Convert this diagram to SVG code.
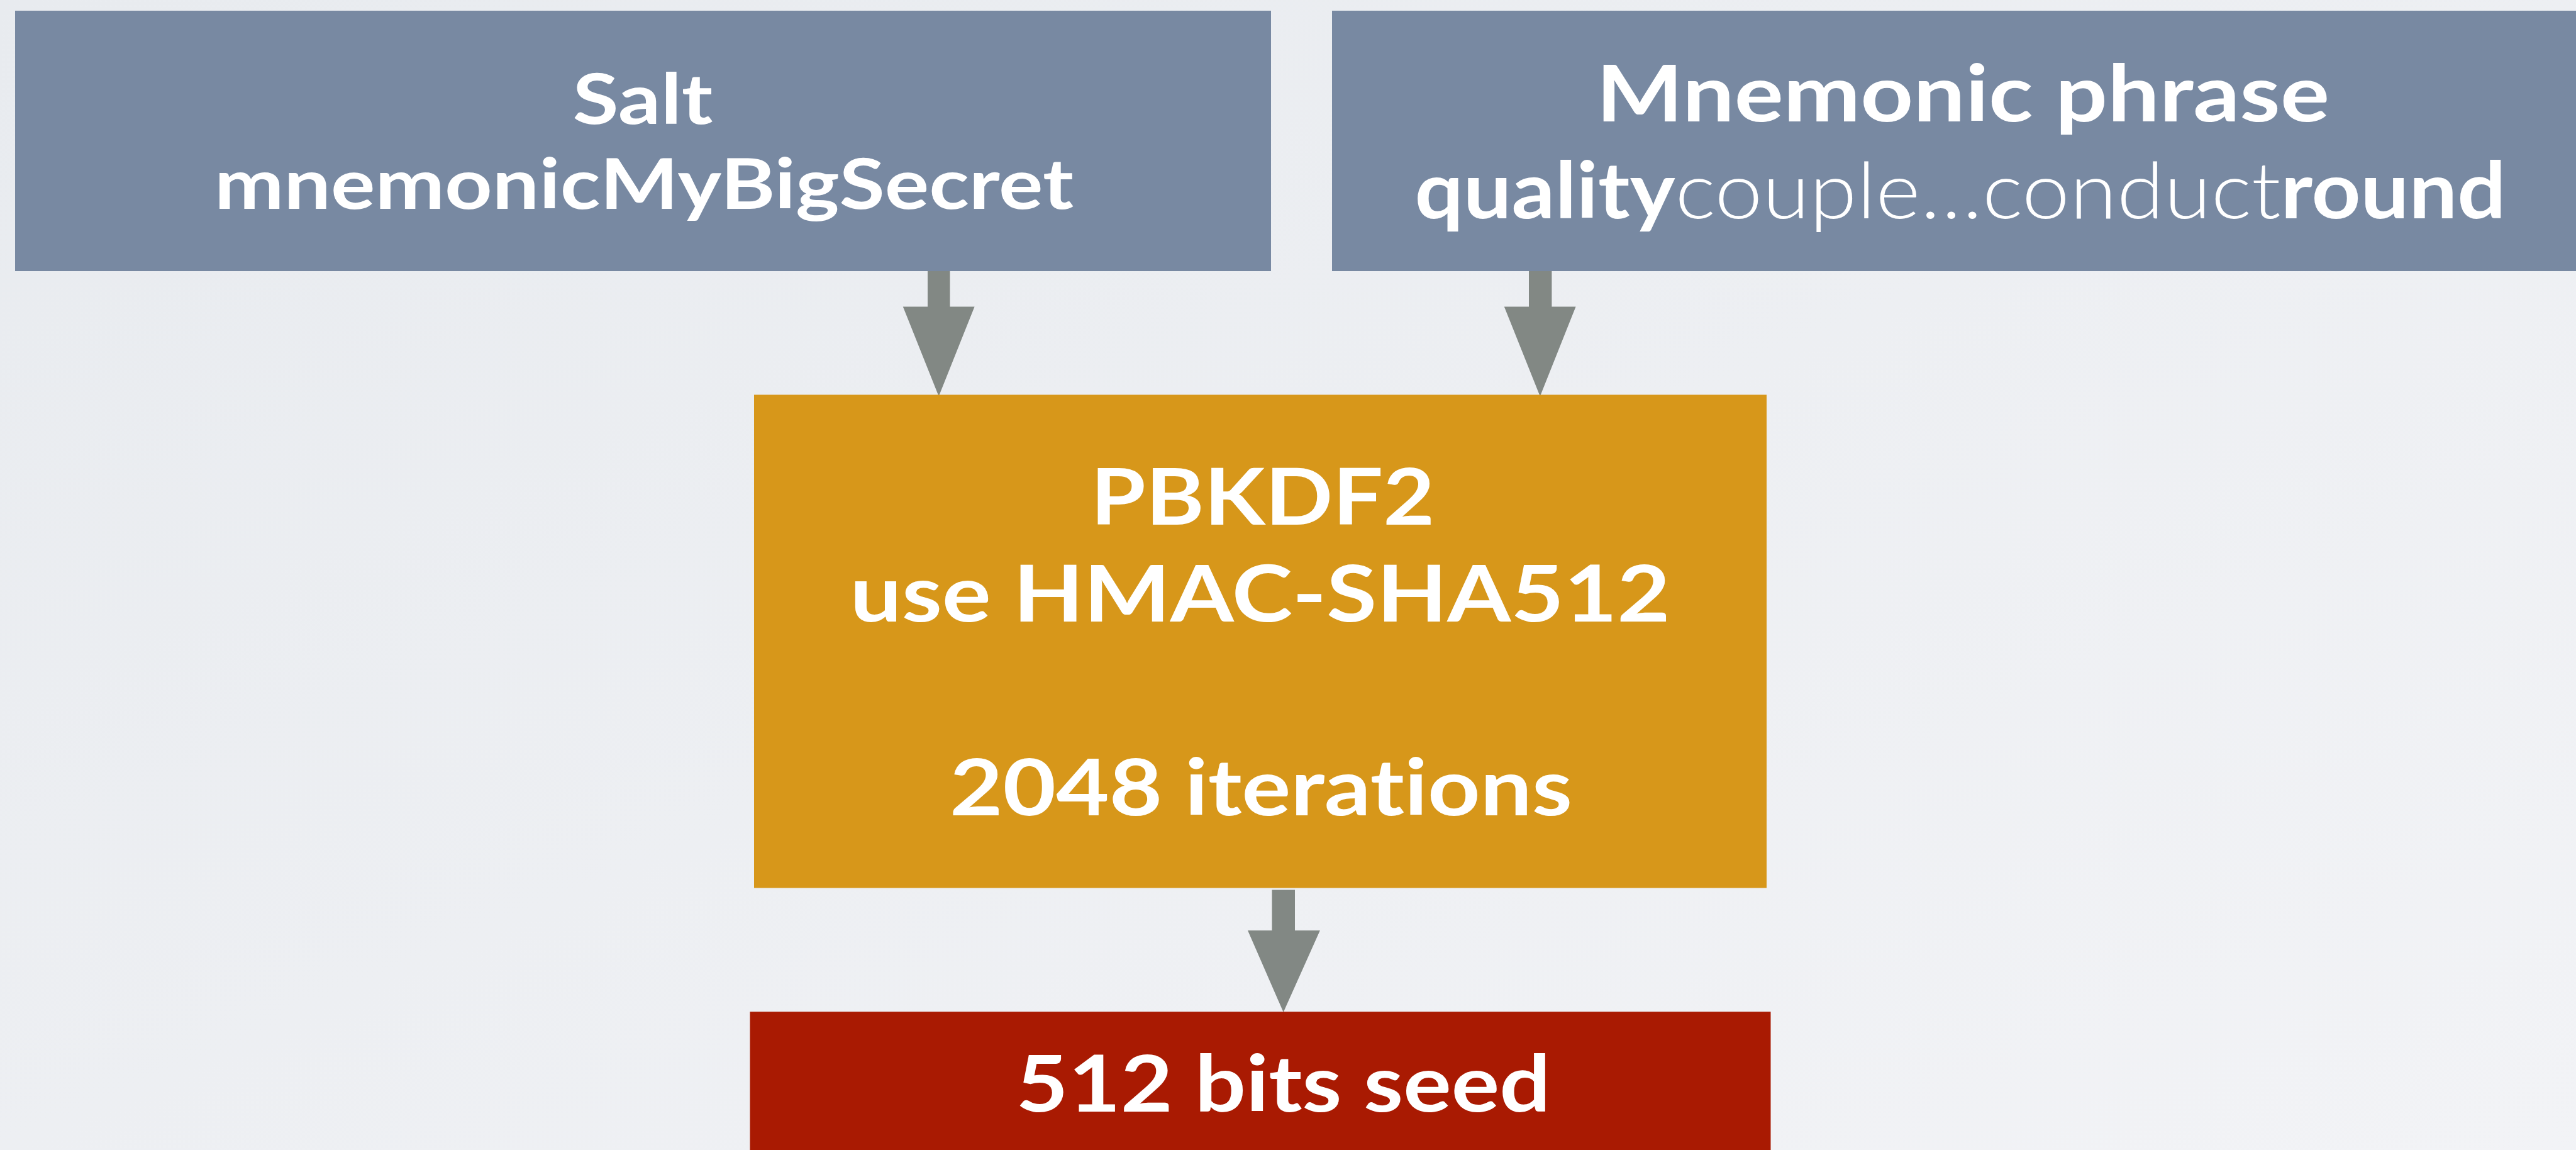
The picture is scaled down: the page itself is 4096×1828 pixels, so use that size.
<svg xmlns="http://www.w3.org/2000/svg" width="4096" height="1828" viewBox="0 0 4096 1828">
<defs>
<linearGradient id="bg" x1="0" y1="0" x2="1" y2="1">
<stop offset="0" stop-color="#E8EBEF"/>
<stop offset="1" stop-color="#F2F3F6"/>
</linearGradient>
<style>
.t{font-family:Lato,"Open Sans","Liberation Sans",sans-serif;font-weight:700;fill:#FFFFFF;text-anchor:middle;font-variant-ligatures:none;font-feature-settings:"liga" 0,"clig" 0}
.lt{font-weight:300}
.blue{fill:#7889A2}
.orange{fill:#D7971A}
.red{fill:#A91A02}
.arrow{fill:#828884}
</style>
</defs>
<rect x="0" y="0" width="4096" height="1828" fill="url(#bg)"/>
<g id="connectors">
<polygon class="arrow" points="1475,424 1510.5,424 1510.5,487.4 1549.6,487.4 1492.7,630 1435.8,487.4 1475,487.4"/>
<polygon class="arrow" points="2431,424 2467.4,424 2467.4,487.4 2505.6,487.4 2448.8,630 2391.8,487.4 2431,487.4"/>
<polygon class="arrow" points="2022.5,1414.5 2059,1414.5 2059,1479 2098.9,1479 2040.7,1609 1984,1479 2022.5,1479"/>
</g>
<g id="salt">
<rect class="blue" x="24" y="17" width="1997" height="414"/>
<text class="t" x="1022" y="196.5" font-size="112" textLength="223" lengthAdjust="spacingAndGlyphs">Salt</text>
<text class="t" x="1024" y="332" font-size="112" textLength="1366" lengthAdjust="spacingAndGlyphs">mnemonicMyBigSecret</text>
</g>
<g id="mnemonic">
<rect class="blue" x="2118" y="17" width="1990" height="414"/>
<text class="t" x="3121" y="193.2" font-size="124" textLength="1166" lengthAdjust="spacingAndGlyphs">Mnemonic phrase</text>
<text class="t" x="3117" y="347.3" font-size="124" textLength="1735" lengthAdjust="spacingAndGlyphs">quality<tspan class="lt">couple…conduct</tspan>round</text>
</g>
<g id="pbkdf2">
<rect class="orange" x="1199" y="627.5" width="1610" height="784"/>
<text class="t" x="2007.7" y="834.2" font-size="124" textLength="547" lengthAdjust="spacingAndGlyphs">PBKDF2</text>
<text class="t" x="2003.8" y="988.3" font-size="124" textLength="1304" lengthAdjust="spacingAndGlyphs">use HMAC-SHA512</text>
<text class="t" x="2005" y="1295.7" font-size="124" textLength="990" lengthAdjust="spacingAndGlyphs">2048 iterations</text>
</g>
<g id="seed">
<rect class="red" x="1192.5" y="1608.2" width="1623" height="230"/>
<text class="t" x="2040.6" y="1767" font-size="124" textLength="850" lengthAdjust="spacingAndGlyphs">512 bits seed</text>
</g>
</svg>
